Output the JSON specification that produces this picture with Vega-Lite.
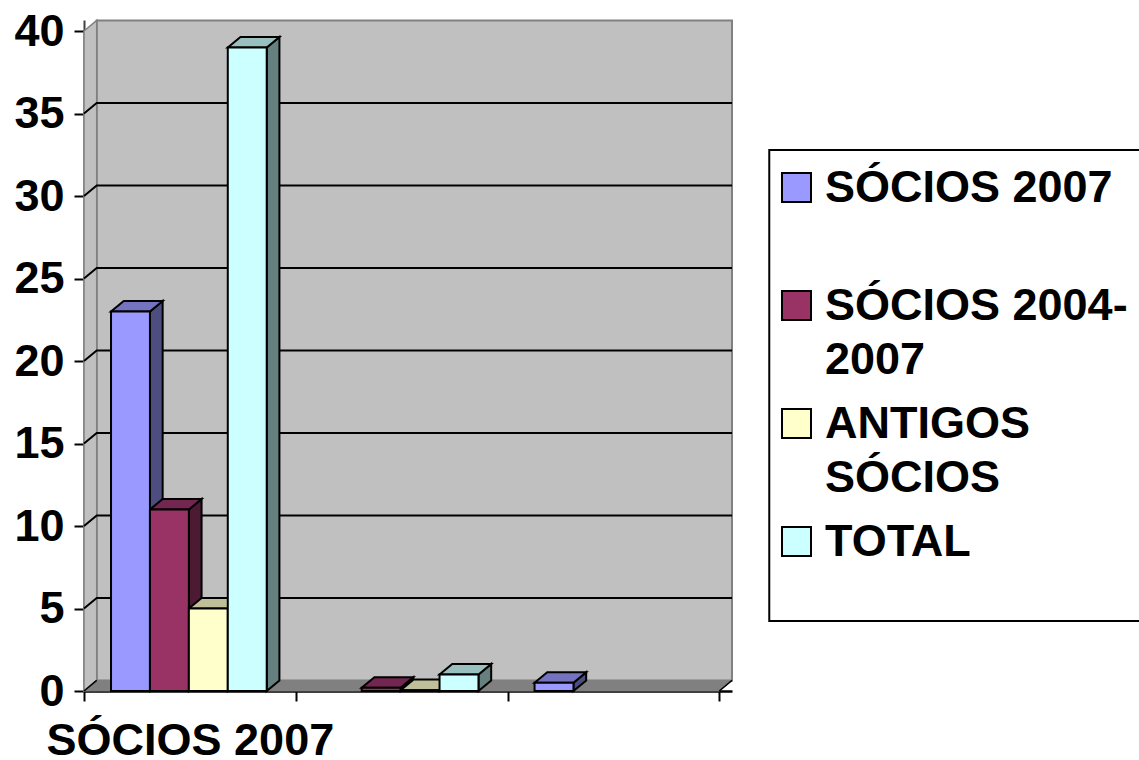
{
"$schema":"https://vega.github.io/schema/vega-lite/v6.json",
"width":648,"height":671,
"autosize":{"type":"none"},
"padding":{"left":84,"top":20,"right":407,"bottom":69},
"background":"white",
"config":{"view":{"stroke":null},"font":"Liberation Sans","style":{"guide-label":{"lineHeight":54}}},
"datasets":{"bars":[
{"series":"SÓCIOS 2007","group":0,"value":23},
{"series":"SÓCIOS 2004-2007","group":0,"value":11},
{"series":"ANTIGOS SÓCIOS","group":0,"value":5},
{"series":"TOTAL","group":0,"value":39},
{"series":"SÓCIOS 2004-2007","group":1,"value":0.2},
{"series":"ANTIGOS SÓCIOS","group":1,"value":0.05},
{"series":"TOTAL","group":1,"value":1},
{"series":"SÓCIOS 2007","group":2,"value":0.5}
]},
"layer":[
{"data":{"values":[{"a":3.236,"b":5.5,"c":32.79,"d":4.24}]},
 "mark":{"type":"rect","fill":"white","stroke":"black","strokeWidth":2,"clip":false},
 "encoding":{
  "x":{"field":"a","type":"quantitative","scale":{"domain":[0,3.06],"nice":false},"axis":{"title":null,"values":[0,0.5,1,2,3],"grid":false,"tickSize":10,"tickWidth":2,"tickColor":"black","tickOpacity":{"condition":{"test":"datum.value==0.5","value":0},"value":1},"domainColor":"black","domainWidth":2.5,"labelExpr":"datum.value==0.5?'SÓCIOS 2007':''","labelFont":"Liberation Sans","labelFontWeight":"bold","labelFontSize":45,"labelColor":"black","labelPadding":17,"labelLimit":500,"labelFlush":false,"labelOverlap":false,"labelBound":false}},
  "x2":{"field":"b"},
  "y":{"field":"c","type":"quantitative","scale":{"domain":[0,40.667],"nice":false},"axis":{"title":null,"values":[0,5,10,15,20,25,30,35,40],"grid":false,"tickSize":10,"tickWidth":2,"tickColor":"black","domainColor":"#404040","domainWidth":2,"labelFont":"Liberation Sans","labelFontWeight":"bold","labelFontSize":45,"labelColor":"black","labelPadding":10,"labelFlush":false,"labelOverlap":false,"labelBound":false}},
  "y2":{"field":"d"}
 }},
{"data":{"values":[{"a":0.06,"b":3.06,"c":0.64,"d":40.64}]},
 "mark":{"type":"rect","fill":"#C0C0C0","stroke":"#808080","strokeWidth":2},
 "encoding":{"x":{"field":"a","type":"quantitative"},"x2":{"field":"b"},"y":{"field":"c","type":"quantitative"},"y2":{"field":"d"}}},
{"data":{"values":[{"x":0,"lo":0,"hi":40},{"x":0.06,"lo":0.64,"hi":40.64}]},
 "mark":{"type":"area","fill":"#C0C0C0","stroke":"#808080","strokeWidth":1.5},
 "encoding":{"x":{"field":"x","type":"quantitative"},"y":{"field":"lo","type":"quantitative"},"y2":{"field":"hi"}}},
{"data":{"values":[{"x":0,"lo":0,"hi":0},{"x":0.06,"lo":0,"hi":0.64},{"x":3,"lo":0,"hi":0.64},{"x":3.06,"lo":0.64,"hi":0.64}]},
 "mark":{"type":"area","fill":"#808080","stroke":"#808080","strokeWidth":1},
 "encoding":{"x":{"field":"x","type":"quantitative"},"y":{"field":"lo","type":"quantitative"},"y2":{"field":"hi"}}},
{"data":{"values":[{"level":5},{"level":10},{"level":15},{"level":20},{"level":25},{"level":30},{"level":35}]},
 "transform":[{"calculate":"[0,0.06,3.06]","as":"gx"},{"flatten":["gx"]},{"calculate":"datum.gx>0?datum.level+0.64:datum.level","as":"gy"}],
 "mark":{"type":"line","stroke":"black","strokeWidth":2},
 "encoding":{"x":{"field":"gx","type":"quantitative"},"y":{"field":"gy","type":"quantitative"},"detail":{"field":"level"}}},
{"data":{"values":[{"gx":0,"gy":0},{"gx":0.06,"gy":0.64}]},
 "mark":{"type":"line","stroke":"black","strokeWidth":1.5},
 "encoding":{"x":{"field":"gx","type":"quantitative"},"y":{"field":"gy","type":"quantitative"}}},
{"data":{"values":[{"gx":3,"gy":0},{"gx":3.06,"gy":0.64}]},
 "mark":{"type":"line","stroke":"black","strokeWidth":1.5},
 "encoding":{"x":{"field":"gx","type":"quantitative"},"y":{"field":"gy","type":"quantitative"}}},
{"data":{"name":"bars"},
 "transform":[
  {"calculate":"indexof(['SÓCIOS 2007','SÓCIOS 2004-2007','ANTIGOS SÓCIOS','TOTAL'],datum.series)","as":"idx"},
  {"calculate":"datum.group+0.1276+datum.idx*0.1838","as":"l"},
  {"calculate":"datum.group+'-'+datum.idx","as":"bar"},
  {"calculate":"['#4D4D80','#4D1A33','#808066','#668080'][datum.idx]","as":"shade"},
  {"calculate":"[0,1]","as":"t"},{"flatten":["t"]},
  {"calculate":"datum.l+0.1838+datum.t*0.06","as":"px"},
  {"calculate":"datum.t*0.64","as":"lo"},
  {"calculate":"datum.value+datum.t*0.64","as":"hi"}],
 "mark":{"type":"area","stroke":"black","strokeWidth":2},
 "encoding":{"x":{"field":"px","type":"quantitative"},"y":{"field":"lo","type":"quantitative"},"y2":{"field":"hi"},"detail":{"field":"bar"},
  "fill":{"field":"shade","type":"nominal","scale":null}}},
{"data":{"name":"bars"},
 "transform":[
  {"calculate":"indexof(['SÓCIOS 2007','SÓCIOS 2004-2007','ANTIGOS SÓCIOS','TOTAL'],datum.series)","as":"idx"},
  {"calculate":"datum.group+0.1276+datum.idx*0.1838","as":"l"},
  {"calculate":"datum.group+'-'+datum.idx","as":"bar"},
  {"calculate":"['#7373BF','#732650','#BFBF99','#99BFBF'][datum.idx]","as":"shade"},
  {"calculate":"[0,1,2,3]","as":"t"},{"flatten":["t"]},
  {"calculate":"datum.l+[0,0.06,0.1838,0.2438][datum.t]","as":"px"},
  {"calculate":"datum.value+[0,0,0,0.64][datum.t]","as":"lo"},
  {"calculate":"datum.value+[0,0.64,0.64,0.64][datum.t]","as":"hi"}],
 "mark":{"type":"area","stroke":"black","strokeWidth":2},
 "encoding":{"x":{"field":"px","type":"quantitative"},"y":{"field":"lo","type":"quantitative"},"y2":{"field":"hi"},"detail":{"field":"bar"},
  "fill":{"field":"shade","type":"nominal","scale":null}}},
{"data":{"name":"bars"},
 "transform":[
  {"calculate":"indexof(['SÓCIOS 2007','SÓCIOS 2004-2007','ANTIGOS SÓCIOS','TOTAL'],datum.series)","as":"idx"},
  {"calculate":"datum.group+0.1276+datum.idx*0.1838","as":"l"},
  {"calculate":"datum.l+0.1838","as":"r"},
  {"calculate":"0","as":"base"}],
 "mark":{"type":"rect","stroke":"black","strokeWidth":2},
 "encoding":{"x":{"field":"l","type":"quantitative"},"x2":{"field":"r"},"y":{"field":"base","type":"quantitative"},"y2":{"field":"value"},
  "fill":{"field":"series","type":"nominal","scale":{"domain":["SÓCIOS 2007","SÓCIOS 2004-2007","ANTIGOS SÓCIOS","TOTAL"],"range":["#9999FF","#993366","#FFFFCC","#CCFFFF"]},
   "legend":{"title":null,"orient":"none","legendX":690,"legendY":145,"symbolType":"square","symbolSize":841,"symbolStrokeColor":"black","symbolStrokeWidth":2,"symbolOpacity":1,"labelFont":"Liberation Sans","labelFontWeight":"bold","labelFontSize":45,"labelColor":"black","labelLimit":500,"labelOffset":6,"rowPadding":18,"gridAlign":"all","padding":0,"columns":1,
    "labelExpr":"datum.label=='SÓCIOS 2004-2007'?['SÓCIOS 2004-','2007']:datum.label=='ANTIGOS SÓCIOS'?['ANTIGOS','SÓCIOS']:datum.label"}}}}
]
}
